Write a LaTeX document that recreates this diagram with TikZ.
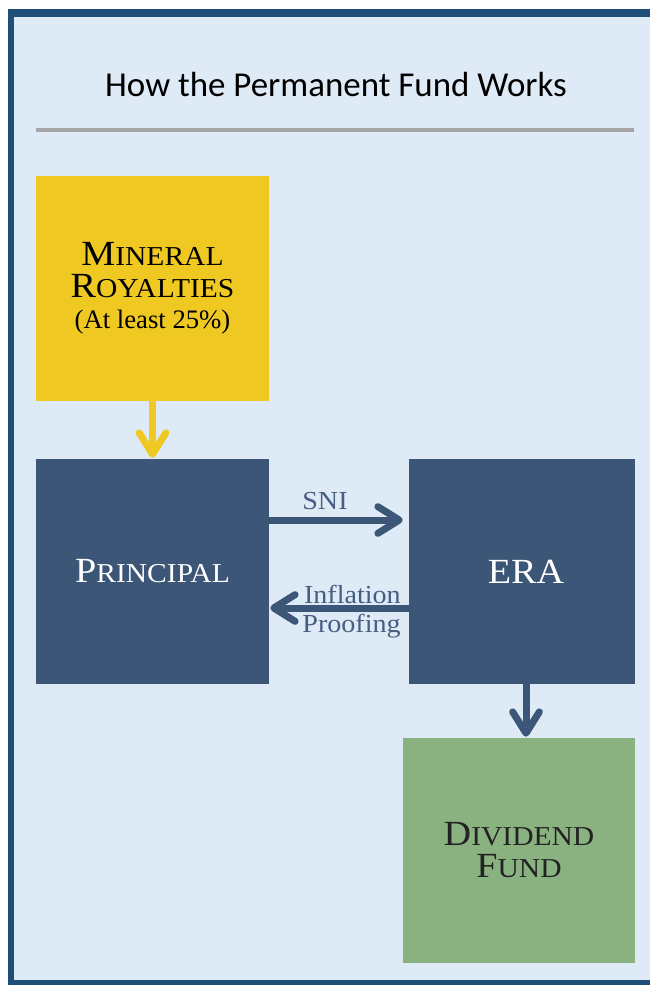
\documentclass[tikz,border=0pt]{standalone}
\usepackage{fontspec}
\setmainfont{Liberation Serif}
\newfontfamily\boxfont[FakeStretch=1.08]{Liberation Serif}
\newfontfamily\titlefont{Carlito}
\usetikzlibrary{arrows.meta}
\definecolor{frameblue}{HTML}{1F4E79}
\definecolor{bgblue}{HTML}{DEEAF6}
\definecolor{gold}{HTML}{EFC821}
\definecolor{navy}{HTML}{3C5677}
\definecolor{sage}{HTML}{8AB180}
\definecolor{lblue}{HTML}{475D82}
\definecolor{rulegray}{HTML}{A5A5A5}
\definecolor{darktext}{HTML}{222222}
\newcommand\Bc[1]{{\fontsize{26.5}{30}\selectfont #1}}
\begin{document}
\begin{tikzpicture}[x=0.75pt,y=-0.75pt,
  box/.style={rectangle, inner sep=0pt, align=center, font=\boxfont\fontsize{20.5}{24}\selectfont},
  arr/.style={line width=5.25pt, -{Straight Barb[length=16pt,width=20pt,round]}},
  lbl/.style={font=\boxfont\fontsize{19.5}{21.75}\selectfont, text=lblue, inner sep=0pt}]
\useasboundingbox (0,0) rectangle (650,985);
\fill[bgblue] (14,17) rectangle (650,980);
\fill[frameblue] (8,9) rectangle (14,985);
\fill[frameblue] (8,9) rectangle (650,17);
\fill[frameblue] (8,980) rectangle (650,985);
\node[font=\titlefont\fontsize{26.2}{30}\selectfont, inner sep=0pt] (title) at (336,84.5) {How the Permanent Fund Works};
\coordinate (r1) at (36,130);
\coordinate (r2) at (634,130);
\draw[rulegray, line width=3pt] (r1) -- (r2);

\node[box, fill=gold, text=black, minimum width=174.75pt, minimum height=168.75pt] (min) at (152.5,288.5)
  {\Bc{M}INERAL\\\Bc{R}OYALTIES\\[-1pt]{\rmfamily\fontsize{20}{24}\selectfont (At least 25\%)}};
\node[box, fill=navy, text=white, minimum width=174.75pt, minimum height=168.75pt] (prin) at (152.5,571.5)
  {\Bc{P}RINCIPAL};
\node[box, fill=navy, text=white, minimum width=169.5pt, minimum height=168.75pt] (era) at (522,571.5)
  {\hspace*{6pt}\Bc{ERA}};
\node[box, fill=sage, text=darktext, minimum width=174pt, minimum height=168.75pt] (div) at (519,850.5)
  {\Bc{D}IVIDEND\\\Bc{F}UND};

\coordinate (sniy) at (0,520);
\coordinate (infy) at (0,608);
\coordinate (divx) at (526,0);
\draw[arr, gold, shorten >=0.75pt] (min.south) -- (prin.north);
\draw[arr, navy, shorten >=4.5pt] (prin.east |- sniy) -- (era.west |- sniy);
\draw[arr, navy, shorten >=0.75pt] (era.west |- infy) -- (prin.east |- infy);
\draw[arr, navy, shorten >=0.75pt] (era.south -| divx) -- (div.north -| divx);

\node[lbl] (sni) at (325,501) {SNI};
\node[lbl, align=right, anchor=east] (infl) at (401,612) {Inflation\\Proofing};
\end{tikzpicture}
\end{document}
